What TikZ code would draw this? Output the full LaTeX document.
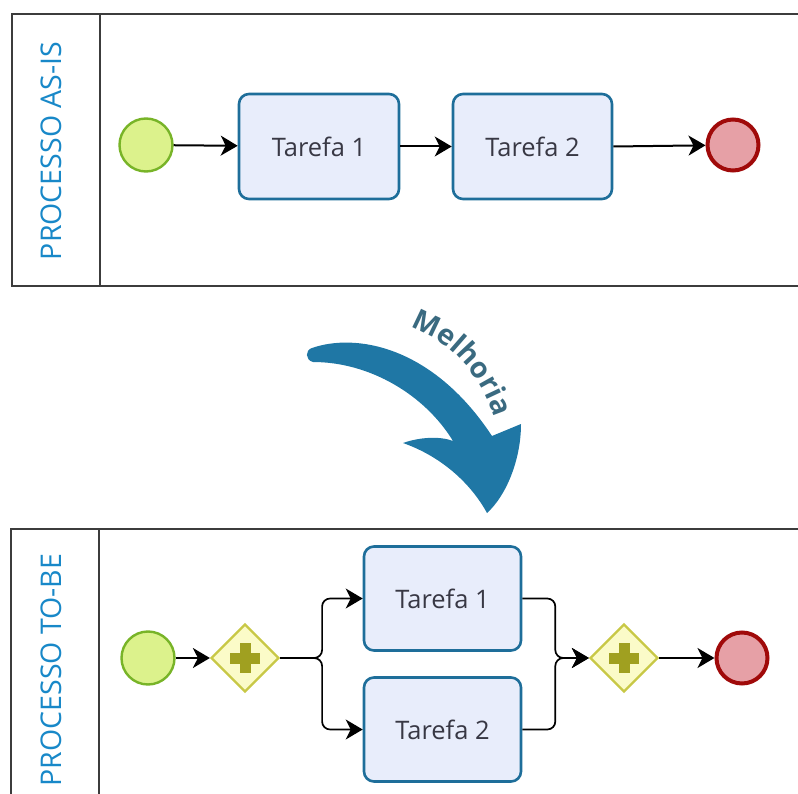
\documentclass[tikz,border=0pt]{standalone}
\usepackage{fontspec}
\setmainfont{Open Sans}
\usetikzlibrary{shapes.geometric,arrows.meta,decorations.text,calc}
\definecolor{poolc}{HTML}{3C3C3C}
\definecolor{labelc}{HTML}{1888C8}
\definecolor{taskc}{HTML}{1E6E9A}
\definecolor{taskfill}{HTML}{E8EDFB}
\definecolor{textc}{HTML}{383844}
\definecolor{startc}{HTML}{78B428}
\definecolor{startfill}{HTML}{DCF28C}
\definecolor{endc}{HTML}{A00A0A}
\definecolor{endfill}{HTML}{E6A0A6}
\definecolor{gatec}{HTML}{C8C846}
\definecolor{gatefill}{HTML}{FBFBC8}
\definecolor{plusc}{HTML}{A0A020}
\definecolor{arrowc}{HTML}{1F77A5}
\definecolor{melc}{HTML}{3A6A80}
\begin{document}
\begin{tikzpicture}[x=1pt,y=-1pt,
  pool/.style={draw=poolc, line width=1.6pt},
  lanelabel/.style={text=labelc, font=\fontsize{28.5}{32}\selectfont, rotate=90, inner sep=0},
  task/.style={draw=taskc, fill=taskfill, line width=2.6pt, rounded corners=10pt, inner sep=0, text=textc, font=\fontsize{25.5}{30}\selectfont},
  startev/.style={circle, draw=startc, fill=startfill, line width=2.4pt, minimum size=53pt, inner sep=0},
  endev/.style={circle, draw=endc, fill=endfill, line width=4pt, minimum size=51pt, inner sep=0},
  gate/.style={diamond, aspect=1, draw=gatec, fill=gatefill, line width=2.2pt, minimum width=68pt, minimum height=68pt, inner sep=0},
  flow/.style={draw=black, line width=2pt, -{Stealth[length=17pt,width=20pt,inset=5pt]}},
  branch/.style={flow, line width=1.7pt, rounded corners=8pt},
  plus/.style={fill=plusc}
]
\useasboundingbox (0,0) rectangle (798,794);
\clip (0,0) rectangle (798,794);

% pools
\draw[pool] (12,14) rectangle (830,286);
\draw[pool] (100,14) -- (100,286);
\draw[pool] (11,529) rectangle (830,830);
\draw[pool] (99,529) -- (99,830);
\node[lanelabel] (lab1) at (51,151) {PROCESSO AS-IS};
\node[lanelabel] (lab2) at (51,670) {PROCESSO TO-BE};

% AS-IS
\node[startev] (s1) at (146,145) {};
\node[task, minimum width=160pt, minimum height=105pt] (a1) at (319,146.5) {Tarefa 1};
\node[task, minimum width=159pt, minimum height=105pt] (a2) at (532.5,146.5) {Tarefa 2};
\node[endev] (e1) at (733,145) {};
\draw[flow] (s1) -- (a1);
\draw[flow] (a1.east) -- (a2.west);
\draw[flow] (a2.east) -- (e1);

% big arrow
\fill[arrowc] (312,348) .. controls (355,333) and (432,345) .. (492,436)
  -- (521,424) .. controls (521,460) and (506,496) .. (487,513)
  .. controls (470,482) and (440,456) .. (403,443)
  .. controls (420,437) and (440,436) .. (453,441)
  .. controls (425,395) and (370,362) .. (313,362)
  .. controls (305,360) and (305,350) .. (312,348) -- cycle;
\path[decorate, decoration={text along path, text align=center,
  text={|\fontsize{28.5}{32}\selectfont\bfseries\color{melc}|Melhoria}}]
  (386,321) .. controls (444,330) and (488,374) .. (500,442);

% TO-BE
\node[startev] (s2) at (148,658) {};
\node[gate] (g1) at (245,658) {};
\node[task, minimum width=157pt, minimum height=104pt] (b1) at (442.5,598.5) {Tarefa 1};
\node[task, minimum width=157pt, minimum height=104pt] (b2) at (442.5,729.5) {Tarefa 2};
\node[gate] (g2) at (624,658) {};
\node[endev] (e2) at (742,658) {};
\fill[plus] ([shift={(-15,-5.5)}]g1.center) rectangle ([shift={(15,5.5)}]g1.center);
\fill[plus] ([shift={(-5.5,-15)}]g1.center) rectangle ([shift={(5.5,15)}]g1.center);
\fill[plus] ([shift={(-15,-5.5)}]g2.center) rectangle ([shift={(15,5.5)}]g2.center);
\fill[plus] ([shift={(-5.5,-15)}]g2.center) rectangle ([shift={(5.5,15)}]g2.center);
\draw[flow] (s2) -- (g1);
\draw[branch] (g1.east) -- ++(42,0) |- (b1.west);
\draw[branch] (g1.east) -- ++(42,0) |- (b2.west);
\draw[branch] (b1.east) -- ++(33,0) |- (g2.west);
\draw[branch] (b2.east) -- ++(33,0) |- (g2.west);
\draw[flow] (g2) -- (e2);
\end{tikzpicture}
\end{document}
